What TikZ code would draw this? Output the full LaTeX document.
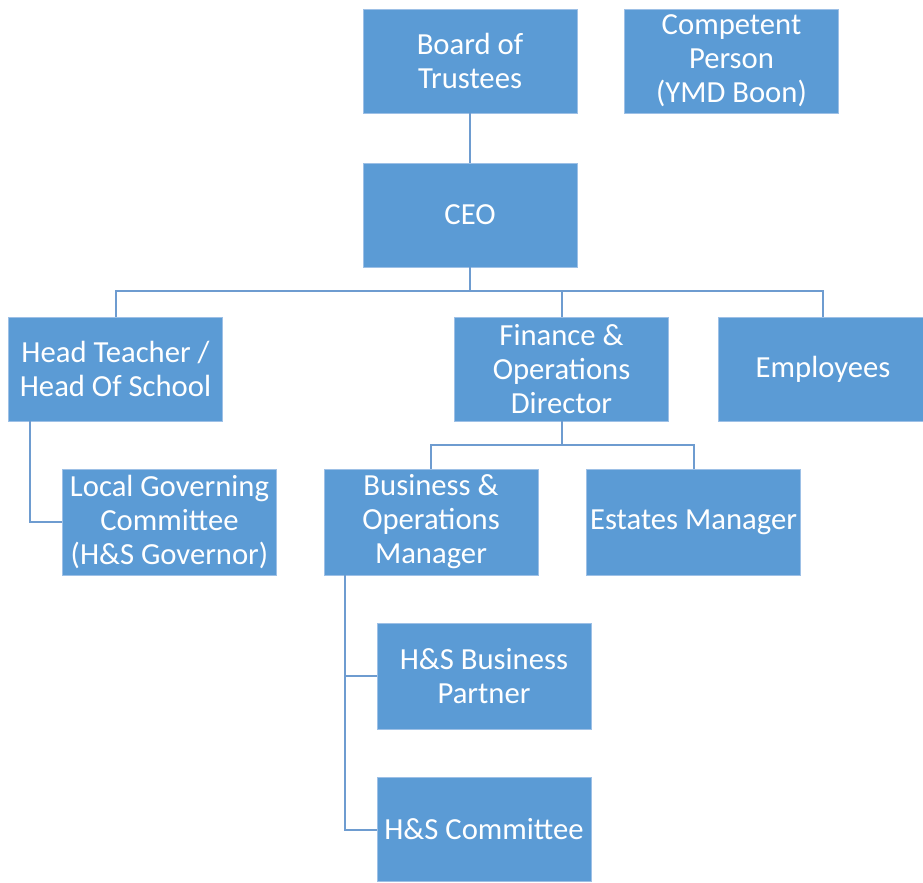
\documentclass[tikz,border=0pt]{standalone}
\usepackage{fontspec}
\setmainfont{Carlito}
\definecolor{boxfill}{HTML}{5B9BD5}
\definecolor{boxline}{HTML}{9DC0E6}
\definecolor{conn}{HTML}{6E9CD0}
\begin{document}
\begin{tikzpicture}[x=0.75pt,y=-0.75pt,
  orgbox/.style={rectangle, fill=boxfill, draw=boxline, line width=0.6pt,
    text=white, align=center, inner sep=0pt,
    minimum width=160.5pt, minimum height=78pt,
    font=\fontsize{23}{25.5}\selectfont},
  link/.style={draw=conn, line width=1.5pt}]
\useasboundingbox (0,0) rectangle (923,882);
\node[orgbox] (board) at (470,61) {Board of\\Trustees};
\node[orgbox] (comp) at (731.5,61) {Competent\\Person\\(YMD Boon)};
\node[orgbox] (ceo) at (470,215) {CEO};
\node[orgbox] (head) at (115.5,369) {Head Teacher /\\Head Of School};
\node[orgbox] (fin) at (561.5,369) {Finance \&\\Operations\\Director};
\node[orgbox, minimum width=157.5pt] (emp) at (823,369) {Employees};
\node[orgbox, minimum height=79.5pt] (lgc) at (169.5,522) {Local Governing\\Committee\\(H\&S Governor)};
\node[orgbox, minimum height=79.5pt] (bom) at (431,522) {Business \&\\Operations\\Manager};
\node[orgbox, minimum height=79.5pt] (est) at (693.5,522) {Estates Manager};
\node[orgbox, minimum height=79.5pt] (hsbp) at (484,676) {H\&S Business\\Partner};
\node[orgbox] (hsc) at (484,829.5) {H\&S Committee};
\coordinate (bus1) at (470,291);
\coordinate (bus2) at (561.5,445);
\path[link] (board) -- (ceo);
\path[link] (ceo.south) -- (bus1);
\path[link] (head.north) |- (bus1) -| (emp.north);
\path[link] (bus1) -| (fin.north);
\path[link] (fin.south) -- (bus2);
\path[link] (bom.north) |- (bus2) -| (est.north);
\path[link] (head.south) ++(-85.5,0) |- (lgc.west);
\path[link] (bom.south) ++(-86,0) |- (hsbp.west);
\path[link] (bom.south) ++(-86,0) |- (hsc.west);
\end{tikzpicture}
\end{document}
